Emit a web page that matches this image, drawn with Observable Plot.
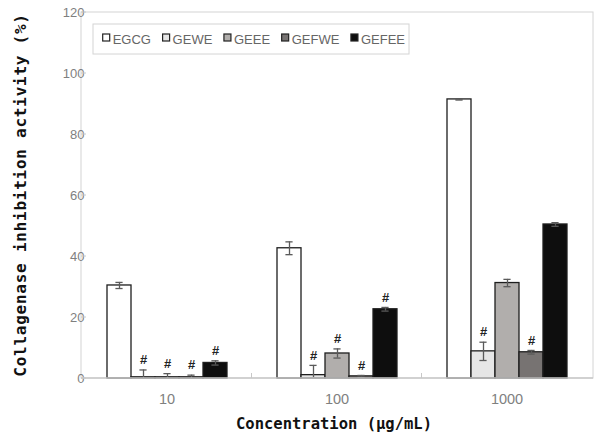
<!DOCTYPE html>
<html><head><meta charset="utf-8">
<script src="https://cdn.jsdelivr.net/npm/d3@7"></script>
<script src="https://cdn.jsdelivr.net/npm/@observablehq/plot@0.6"></script>
<style>
body{margin:0;background:#fff}
#chart svg{font-family:"Liberation Sans",Arial,sans-serif}
#chart g[aria-label^="y-axis"] text{fill:#7f7f7f;font-size:13px}
#chart g[aria-label^="fx-axis"] text{fill:#7f7f7f;font-size:14.5px}
</style>
</head><body><div id="chart"></div>
<script>
const concentrations = ["10", "100", "1000"];
const series = ["EGCG", "GEWE", "GEEE", "GEFWE", "GEFEE"];
const colors = ["#ffffff", "#e6e6e6", "#b1aeac", "#777372", "#0e0e0e"];
const yTicks = [0, 20, 40, 60, 80, 100, 120];

const EGCG  = [30.5, 42.7, 91.5];
const GEWE  = [0.4, 1.1, 8.9];
const GEEE  = [0.4, 8.2, 31.3];
const GEFWE = [0.4, 0.7, 8.6];
const GEFEE = [5.1, 22.7, 50.5];

const EGCG_err  = [1.0, 2.1, 0.2];
const GEWE_err  = [2.4, 3.2, 3.0];
const GEEE_err  = [1.2, 1.5, 1.2];
const GEFWE_err = [0.7, 0.3, 0.6];
const GEFEE_err = [0.7, 0.6, 0.6];

const EGCG_sig  = [false, false, false];
const GEWE_sig  = [true, true, true];
const GEEE_sig  = [true, true, false];
const GEFWE_sig = [true, true, true];
const GEFEE_sig = [true, true, false];

const vals = {EGCG, GEWE, GEEE, GEFWE, GEFEE};
const errs = {EGCG: EGCG_err, GEWE: GEWE_err, GEEE: GEEE_err, GEFWE: GEFWE_err, GEFEE: GEFEE_err};
const sigs = {EGCG: EGCG_sig, GEWE: GEWE_sig, GEEE: GEEE_sig, GEFWE: GEFWE_sig, GEFEE: GEFEE_sig};

const data = [];
concentrations.forEach((c, i) => series.forEach(s => {
  data.push({conc: c, series: s, value: vals[s][i], err: errs[s][i], sig: sigs[s][i]});
}));

const W = 594, H = 435, mL = 81, mR = 1, mT = 12, mB = 57;

const plot = Plot.plot({
  width: W, height: H,
  marginLeft: mL, marginRight: mR, marginTop: mT, marginBottom: mB,
  facet: {data, x: "conc"},
  fx: {domain: concentrations, paddingInner: 0.275, paddingOuter: 0.1375, label: null, axis: "bottom", tickSize: 0, tickPadding: 15},
  x: {domain: series, axis: null, padding: 0},
  y: {domain: [0, 120], ticks: yTicks, label: null, tickSize: 0, tickPadding: 21},
  color: {domain: series, range: colors},
  marks: [
    Plot.barY(data, {x: "series", y: "value", fill: "series", stroke: "#1e1e1e", strokeWidth: 1.3}),
    Plot.ruleX(data, {x: "series", y1: d => Math.max(0, d.value - d.err), y2: d => d.value + d.err, stroke: "#5a5a5a", strokeWidth: 1.3}),
    Plot.tickY(data, {x: "series", y: d => d.value + d.err, stroke: "#5a5a5a", strokeWidth: 1.3, insetLeft: 8.4, insetRight: 8.4}),
    Plot.tickY(data, {filter: d => d.value - d.err > 0, x: "series", y: d => d.value - d.err, stroke: "#5a5a5a", strokeWidth: 1.3, insetLeft: 8.4, insetRight: 8.4}),
    Plot.text(data, {filter: d => d.sig, x: "series", y: d => d.value + d.err, text: () => "#", dy: -10, fontSize: 13, fontWeight: "bold", fill: "#222"})
  ]
});

document.getElementById("chart").appendChild(plot);

const svg = d3.select(plot);
const ys = plot.scale("y");
const fxs = plot.scale("fx");
const y0 = ys.apply(0), yTop = ys.apply(120);

// plot-area frame
svg.insert("rect", ":first-child")
  .attr("x", mL).attr("y", yTop).attr("width", W - mL - mR).attr("height", y0 - yTop)
  .attr("fill", "none").attr("stroke", "#d4d4d4").attr("stroke-width", 1);
// baseline
svg.append("line").attr("x1", mL).attr("x2", W - mR).attr("y1", y0).attr("y2", y0)
  .attr("stroke", "#c8c8c8").attr("stroke-width", 1.6);
// y ticks (inward)
yTicks.forEach(t => {
  svg.append("line").attr("x1", mL).attr("x2", mL + 5).attr("y1", ys.apply(t)).attr("y2", ys.apply(t))
    .attr("stroke", "#c8c8c8");
});
// category dividers
const bw = fxs.bandwidth, step = fxs.step;
concentrations.slice(0, -1).forEach(c => {
  const xd = fxs.apply(c) + bw + (step - bw) / 2;
  svg.append("line").attr("x1", xd).attr("x2", xd).attr("y1", y0).attr("y2", y0 - 5)
    .attr("stroke", "#c8c8c8");
});

// axis titles
svg.append("text")
  .attr("transform", `translate(20,${(y0 + yTop) / 2}) rotate(-90)`)
  .attr("text-anchor", "middle").attr("dominant-baseline", "central")
  .style("font-family", "'DejaVu Sans Mono', monospace").style("font-weight", "bold")
  .style("font-size", "16px").style("letter-spacing", "0.75px").attr("fill", "#111")
  .text("Collagenase inhibition activity (%)");
svg.append("text")
  .attr("x", 334).attr("y", 429)
  .attr("text-anchor", "middle")
  .style("font-family", "'DejaVu Sans Mono', monospace").style("font-weight", "bold")
  .style("font-size", "15.5px").attr("fill", "#111")
  .text("Concentration (μg/mL)");

// legend
const lg = svg.append("g").attr("transform", "translate(93,24)");
lg.append("rect").attr("width", 316).attr("height", 30).attr("fill", "#fff").attr("stroke", "#d4d4d4");
let lx = 9.7;
series.forEach((s, i) => {
  lg.append("rect").attr("x", lx).attr("y", 10).attr("width", 7).attr("height", 7)
    .attr("fill", colors[i]).attr("stroke", "#222").attr("stroke-width", 1.2);
  const t = lg.append("text").attr("x", lx + 10).attr("y", 19.5)
    .attr("text-anchor", "start")
    .style("font-family", "'Liberation Sans', Arial, sans-serif").style("font-size", "13px")
    .attr("fill", "#666").text(s);
  lx += 10 + t.node().getComputedTextLength() + 11.6;
});
</script>
</body></html>
